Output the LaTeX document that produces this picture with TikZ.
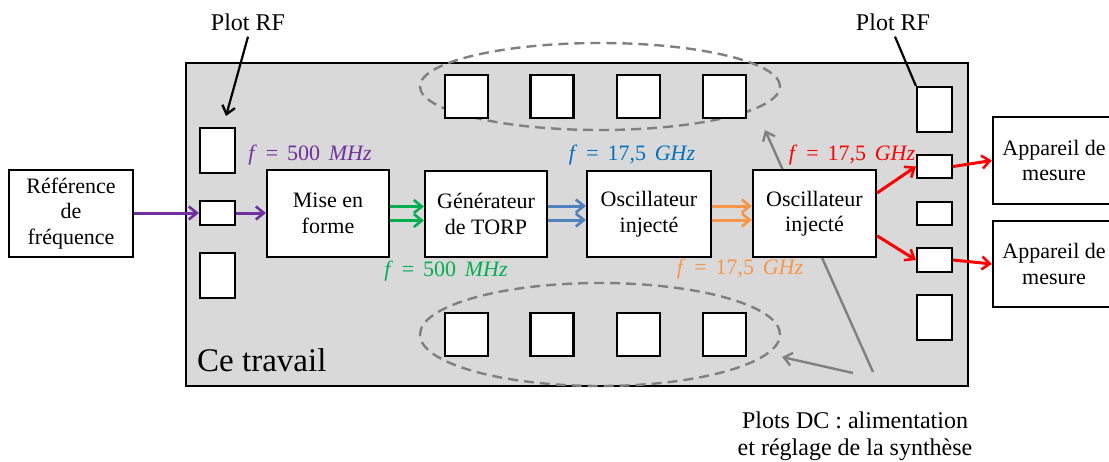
\documentclass[tikz,border=0pt]{standalone}
\usepackage{fontspec}
\setmainfont{Liberation Serif}
\usetikzlibrary{arrows.meta,shapes.geometric,calc}
\definecolor{chipgray}{RGB}{217,217,217}
\definecolor{dgray}{RGB}{128,128,128}
\definecolor{cpurple}{RGB}{112,48,160}
\definecolor{cgreen}{RGB}{0,176,80}
\definecolor{cblue}{RGB}{79,129,189}
\definecolor{cbluet}{RGB}{0,112,192}
\definecolor{corange}{RGB}{247,150,70}
\definecolor{cred}{RGB}{255,0,0}
\begin{document}
\begin{tikzpicture}[x=1pt,y=-1pt,
  blk/.style={draw=black, line width=2.2pt, fill=white, align=center,
    font=\fontsize{22}{25.5}\selectfont, inner sep=0pt},
  pad/.style={draw=black, line width=2.2pt, fill=white, inner sep=0pt, minimum width=35pt},
  dpad/.style={draw=black, line width=2.2pt, fill=white, inner sep=0pt, minimum width=43pt, minimum height=43pt},
  sig/.style={line width=3pt, -{Straight Barb[length=8pt,width=13pt,line width=2.6pt]}},
  lbl/.style={font=\fontsize{22}{26}\selectfont, inner sep=0pt},
  txt/.style={font=\fontsize{24}{27}\selectfont, align=center, inner sep=0pt},
  dcell/.style={draw=dgray, line width=2.4pt, dash pattern=on 10pt off 6pt, ellipse, inner sep=0pt},
  garrow/.style={draw=dgray, line width=2.4pt, -{Straight Barb[length=8pt,width=13pt,line width=2.4pt]}},
]
\useasboundingbox (0,0) rectangle (1109,461);
% chip
\node[draw=black, line width=2.2pt, fill=chipgray, minimum width=782pt, minimum height=323pt,
  anchor=north west, inner sep=0pt] (chip) at (185,62) {};
\node[font=\fontsize{33}{36}\selectfont, anchor=west, inner sep=0pt] (ce) at (197,360) {Ce travail};
% DC pad ellipses
\node[dcell, minimum width=360pt, minimum height=87pt] (topell) at (600,86.5) {};
\node[dcell, minimum width=360pt, minimum height=103pt] (botell) at (600,334.5) {};
% DC annotation arrows
\coordinate (s1) at (853,373);
\coordinate (s2) at (873,372);
\coordinate (t1) at (782,357);
\coordinate (t2) at (765,130);
\draw[garrow] (s2) -- (t2);
\draw[garrow] (s1) -- (t1);
% DC pads
\foreach \i/\x in {1/466.5,2/552,3/638.5,4/724.5}{
  \node[dpad] (tp\i) at (\x,96.5) {};
  \node[dpad] (bp\i) at (\x,334.5) {};
}
% RF pads left
\node[pad, minimum height=45pt] (lp1) at (217.5,150.5) {};
\node[pad, minimum height=24pt] (lp2) at (217.5,213) {};
\node[pad, minimum height=45pt] (lp3) at (217.5,275.5) {};
% RF pads right
\node[pad, minimum height=45pt] (rp1) at (934.5,109.5) {};
\node[pad, minimum height=23pt] (rp2) at (934.5,166.5) {};
\node[pad, minimum height=23pt] (rp3) at (934.5,213.5) {};
\node[pad, minimum height=24pt] (rp4) at (934.5,260) {};
\node[pad, minimum height=45pt] (rp5) at (934.5,317.5) {};
% blocks
\node[blk, minimum width=124pt, minimum height=87pt] (ref) at (71,213.5) {Référence\\de\\fréquence};
\node[blk, minimum width=122pt, minimum height=87pt] (mise) at (328,213.5) {Mise en\\forme};
\node[blk, minimum width=122pt, minimum height=86pt] (gen) at (486,214) {Générateur\\de TORP};
\node[blk, minimum width=124pt, minimum height=86pt] (osc1) at (649,214) {Oscillateur\\injecté};
\node[blk, minimum width=123pt, minimum height=87pt] (osc2) at (814.5,213.5) {Oscillateur\\injecté};
\node[blk, minimum width=122pt, minimum height=87pt] (app1) at (1054,160.5) {Appareil de\\mesure};
\node[blk, minimum width=122pt, minimum height=86pt] (app2) at (1054,264) {Appareil de\\mesure};
% signals
\draw[sig, cpurple] (ref.east |- lp2.west) -- (lp2.west);
\draw[sig, cpurple] (lp2.east) -- (mise.west |- lp2.east);
\draw[sig, cgreen] ($(mise.east)+(0,-7)$) -- ($(gen.west)+(0,-7.5)$);
\draw[sig, cgreen] ($(mise.east)+(0,7)$) -- ($(gen.west)+(0,6.5)$);
\draw[sig, cblue] ($(gen.east)+(0,-8)$) -- ($(osc1.west)+(0,-8)$);
\draw[sig, cblue] ($(gen.east)+(0,6)$) -- ($(osc1.west)+(0,6)$);
\draw[sig, corange] ($(osc1.east)+(0,-8)$) -- ($(osc2.west)+(0,-7.5)$);
\draw[sig, corange] ($(osc1.east)+(0,6)$) -- ($(osc2.west)+(0,6.5)$);
\draw[sig, cred] ($(osc2.north east)!.27!(osc2.south east)$) -- (rp2.west);
\draw[sig, cred] ($(osc2.north east)!.75!(osc2.south east)$) -- (rp4.west);
\draw[sig, cred] (rp2.east) -- (app1.west);
\draw[sig, cred] (rp4.east) -- (app2.west);
% frequency labels
\node[lbl, text=cpurple] (fp) at (310,155) {\textit{f}\hspace{0.4em}=\hspace{0.4em}500\hspace{0.4em}\textit{MHz}};
\node[lbl, text=cgreen] (fg) at (446,271) {\textit{f}\hspace{0.4em}=\hspace{0.4em}500\hspace{0.4em}\textit{MHz}};
\node[lbl, text=cbluet] (fb) at (632,155) {\textit{f}\hspace{0.4em}=\hspace{0.4em}17,5\hspace{0.4em}\textit{GHz}};
\node[lbl, text=corange] (fo) at (740,269) {\textit{f}\hspace{0.4em}=\hspace{0.4em}17,5\hspace{0.4em}\textit{GHz}};
\node[lbl, text=cred] (fr) at (852,155) {\textit{f}\hspace{0.4em}=\hspace{0.4em}17,5\hspace{0.4em}\textit{GHz}};
% Plot RF labels
\node[txt] (prfl) at (248,22) {Plot RF};
\node[txt] (prfr) at (893,22) {Plot RF};
\coordinate (al) at (226,116);
\draw[line width=2.2pt, -{Straight Barb[length=8pt,width=13pt,line width=2.4pt]}] (prfl.south) ++(0,6) -- (al);
\draw[line width=2.2pt] (prfr.south) ++(2,6) -- (rp1.north west);
% DC text
\node[txt] (dc) at (855,436) {Plots DC : alimentation\\et réglage de la synthèse};
\end{tikzpicture}
\end{document}
